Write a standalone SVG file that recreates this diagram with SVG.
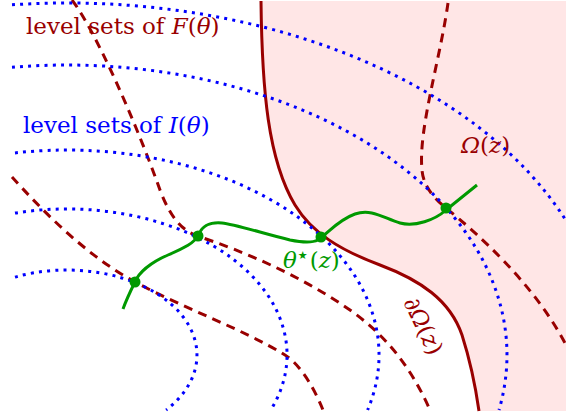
<svg xmlns="http://www.w3.org/2000/svg" width="566" height="417" viewBox="0 0 566 417">
<style>
  .lvlF { fill: none; stroke: #990000; stroke-width: 3; stroke-dasharray: 9 6.5; }
  .lvlI { fill: none; stroke: #0000ff; stroke-width: 3; stroke-dasharray: 3 5.2; }
  .bnd { fill: none; stroke: #990000; stroke-width: 3; }
  .path { fill: none; stroke: #009900; stroke-width: 3; stroke-linejoin: round; }
  .pt { fill: #009900; }
  text { font-family: "DejaVu Serif", "Liberation Serif", serif; font-size: 23px; }
  .it { font-style: italic; }
  .red { fill: #990000; }
  .blue { fill: #0000ff; }
  .green { fill: #009900; }
  .star { font-family: "DejaVu Sans", sans-serif; font-size: 11px; }
</style>
<rect width="566" height="417" fill="#ffffff"/>
<g id="region">
  <path d="M261,1 C262,90 268,160 295,205 C312,233 340,250 380,265 C420,280 450,300 462,335 C470,360 476,390 479,411 L566,411 L566,1 Z" fill="#ffe6e6"/>
</g>
<g id="connectors">
  <g id="boundary">
    <path class="bnd" d="M261,1 C262,90 268,160 295,205 C312,233 340,250 380,265 C420,280 450,300 462,335 C470,360 476,390 479,411"/>
  </g>
  <g id="levelsets-F">
    <path class="lvlF" d="M72,0 C95,30 135,120 160,190 C172,222 185,232 200,237 C240,250 300,275 350,310 C385,335 410,365 430,410"/>
    <path class="lvlF" d="M12,177 C40,208 85,255 135,282 C185,309 245,330 285,355 C301,365 315,390 323,410"/>
    <path class="lvlF" d="M448,3 C440,60 418,130 422,170 C423,183 430,195 446,208 C478,234 535,285 566,345"/>
  </g>
  <g id="levelsets-I">
    <path class="lvlI" d="M12,4.8 A540,352 0 0 1 566,220.5"/>
    <path class="lvlI" d="M12,67.3 A440,290 0 0 1 499,410"/>
    <path class="lvlI" d="M15,152.9 A312,205 0 0 1 367.6,410"/>
    <path class="lvlI" d="M15,213.1 A220,146 0 0 1 270.8,410"/>
    <path class="lvlI" d="M15,277.1 A130,85 0 0 1 166.1,410"/>
  </g>
  <g id="theta-star-path">
    <path class="path" d="M123,309 C127,298 131,290 135,282 C139,272 152,262 168,255 C184,248 195,243 199,234 C203,225 210,222 222,223 C234,224 265,234 290,240 C300,242 312,243 318,240 C328,233 338,220 355,214 C372,208 385,219 400,223 C415,227 435,220 446,210 L477,185"/>
  </g>
</g>
<g id="point1"><circle class="pt" cx="135" cy="282" r="5.5"/></g>
<g id="point2"><circle class="pt" cx="198" cy="236" r="5.5"/></g>
<g id="point3"><circle class="pt" cx="321" cy="237" r="5.5"/></g>
<g id="point4"><circle class="pt" cx="446" cy="208" r="5.5"/></g>
<g id="label-F"><text class="red" x="26" y="34">level sets of <tspan class="it">F</tspan>(<tspan class="it">θ</tspan>)</text></g>
<g id="label-I"><text class="blue" x="23" y="133">level sets of <tspan class="it">I</tspan>(<tspan class="it">θ</tspan>)</text></g>
<g id="label-Omega"><text class="red" x="461" y="153"><tspan class="it">Ω</tspan>(<tspan class="it">z</tspan>)</text></g>
<g id="label-theta"><text class="green" x="283" y="268"><tspan class="it">θ</tspan><tspan class="star" dx="1" dy="-9">★</tspan><tspan dx="2" dy="9">(</tspan><tspan class="it">z</tspan>)</text></g>
<g id="label-boundary"><text class="red" transform="translate(403,302) rotate(64)">∂<tspan class="it">Ω</tspan>(<tspan class="it">z</tspan>)</text></g>
</svg>
